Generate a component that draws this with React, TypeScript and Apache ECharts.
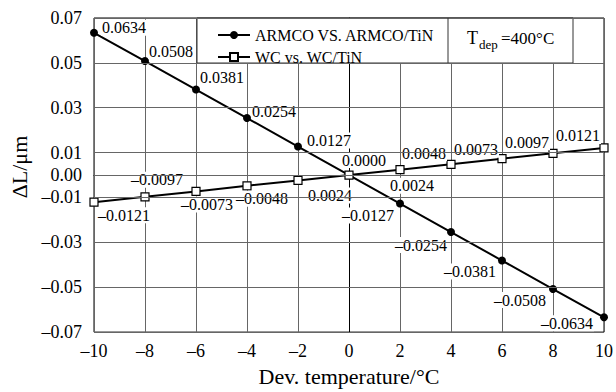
import React, { useEffect, useRef } from 'react';
import * as echarts from 'echarts';

const FONT = 'Liberation Serif';

const temps = [-10, -8, -6, -4, -2, 0, 2, 4, 6, 8, 10];
const armco = [0.0634, 0.0508, 0.0381, 0.0254, 0.0127, 0.0, -0.0127, -0.0254, -0.0381, -0.0508, -0.0634];
const wc = [-0.0121, -0.0097, -0.0073, -0.0048, -0.0024, 0.0, 0.0024, 0.0048, 0.0073, 0.0097, 0.0121];
const yTicks = [-0.07, -0.05, -0.03, -0.01, 0, 0.01, 0.03, 0.05, 0.07];
const seriesNames = ['ARMCO VS. ARMCO/TiN', 'WC vs. WC/TiN'];

// label placement (pixel offsets from the point centre)
const armcoLabelOffsets = [[30, -5], [26, -10], [26, -12], [27, -7], [31, -6], [15, -15], [-32, 12], [-30, 13], [-32, 11], [-33, 11], [-37, 6]];
const wcLabelOffsets = [[30, 13], [12, -17], [11, 13], [15, 13], [28, 15], null, [12, 16], [-27, -11], [-26, -9], [-26, -11], [-26, -12]];

const dash = (s: string) => s.replace('-', '\u2013');
const fmt4 = (v: number) => (v < 0 ? '\u2013' : '') + Math.abs(v).toFixed(4);

export default function App() {
  const ref = useRef<HTMLDivElement>(null);
  useEffect(() => {
    document.body.style.margin = '0';
    const chart = echarts.init(ref.current!, null, { renderer: 'svg' });

    const mkData = (vals: number[], offs: (number[] | null)[]) =>
      vals.map((v, i) => ({
        value: [temps[i], v],
        label: offs[i]
          ? { show: true, position: 'inside', offset: offs[i], formatter: fmt4(v) }
          : { show: false },
      }));

    const labelBase = {
      color: '#000',
      fontFamily: FONT,
      fontSize: 16,
      align: 'center',
      verticalAlign: 'middle',
      backgroundColor: '#fff',
      padding: [0, 1],
    };

    chart.setOption({
      animation: false,
      backgroundColor: '#fff',
      textStyle: { fontFamily: FONT, color: '#000' },
      grid: { left: 93, right: 8, top: 18, bottom: 54, show: true, borderColor: '#000', borderWidth: 1, backgroundColor: 'transparent' },
      xAxis: {
        type: 'value',
        min: -10,
        max: 10,
        interval: 2,
        name: 'Dev. temperature/\u00B0C',
        nameLocation: 'middle',
        nameGap: 30,
        nameTextStyle: { fontFamily: FONT, fontSize: 22, color: '#000' },
        axisLine: { show: true, lineStyle: { color: '#000', width: 1 } },
        axisTick: { show: false },
        axisLabel: { fontFamily: FONT, fontSize: 18, color: '#000', margin: 10, formatter: (v: number) => dash(String(v)) },
        splitLine: { show: true, lineStyle: { color: '#666', width: 1 } },
      },
      yAxis: {
        type: 'value',
        min: -0.07,
        max: 0.07,
        interval: 0.01,
        name: '\u0394L/\u03BCm',
        nameLocation: 'middle',
        nameGap: 64,
        nameRotate: 90,
        nameTextStyle: { fontFamily: FONT, fontSize: 22, color: '#000', padding: [0, 0, 0, 16] },
        axisLine: { show: true, lineStyle: { color: '#000', width: 1 } },
        axisTick: { show: false },
        axisLabel: {
          fontFamily: FONT,
          fontSize: 18,
          color: '#000',
          margin: 12,
          formatter: (v: number) => {
            const r = Math.round(v * 100) / 100;
            if (!yTicks.some((t) => Math.abs(t - r) < 1e-9)) return '';
            return (r < 0 ? '\u2013' : '') + Math.abs(r).toFixed(2);
          },
        },
        splitLine: { show: false },
      },
      legend: {
        data: seriesNames,
        orient: 'vertical',
        left: 212,
        top: 22,
        itemGap: 6,
        itemWidth: 32,
        itemHeight: 10,
        z: 10,
        textStyle: { fontFamily: FONT, fontSize: 16, color: '#000' },
      },
      graphic: [
        { type: 'rect', z: 5, shape: { x: 197, y: 18, width: 376, height: 45 }, style: { fill: '#fff', stroke: '#333', lineWidth: 1 } },
        { type: 'line', z: 6, shape: { x1: 448, y1: 18, x2: 448, y2: 63 }, style: { stroke: '#333', lineWidth: 1 } },
        { type: 'text', z: 6, x: 467, y: 38, style: { text: 'T', fontFamily: FONT, fontSize: 18, fill: '#000', verticalAlign: 'middle' } },
        { type: 'text', z: 6, x: 479, y: 44, style: { text: 'dep', fontFamily: FONT, fontSize: 13, fill: '#000', verticalAlign: 'middle' } },
        { type: 'text', z: 6, x: 501, y: 38, style: { text: '=400\u00B0C', fontFamily: FONT, fontSize: 17, fill: '#000', verticalAlign: 'middle' } },
      ],
      series: [
        {
          name: 'grid',
          type: 'line',
          data: [],
          z: 1,
          markLine: {
            silent: true,
            symbol: ['none', 'none'],
            label: { show: false },
            lineStyle: { color: '#666', width: 1, type: 'solid' },
            data: yTicks.map((v) => ({ yAxis: v })),
          },
        },
        {
          name: seriesNames[0],
          type: 'line',
          z: 3,
          symbol: 'circle',
          symbolSize: 8,
          lineStyle: { color: '#000', width: 2 },
          itemStyle: { color: '#000' },
          label: labelBase,
          data: mkData(armco, armcoLabelOffsets),
        },
        {
          name: seriesNames[1],
          type: 'line',
          z: 3,
          symbol: 'rect',
          symbolSize: 8,
          lineStyle: { color: '#000', width: 2 },
          itemStyle: { color: '#fff', borderColor: '#000', borderWidth: 1.2 },
          label: labelBase,
          data: mkData(wc, wcLabelOffsets),
        },
      ],
    });
    return () => chart.dispose();
  }, []);
  return <div ref={ref} style={{ width: 616, height: 392 }} />;
}
